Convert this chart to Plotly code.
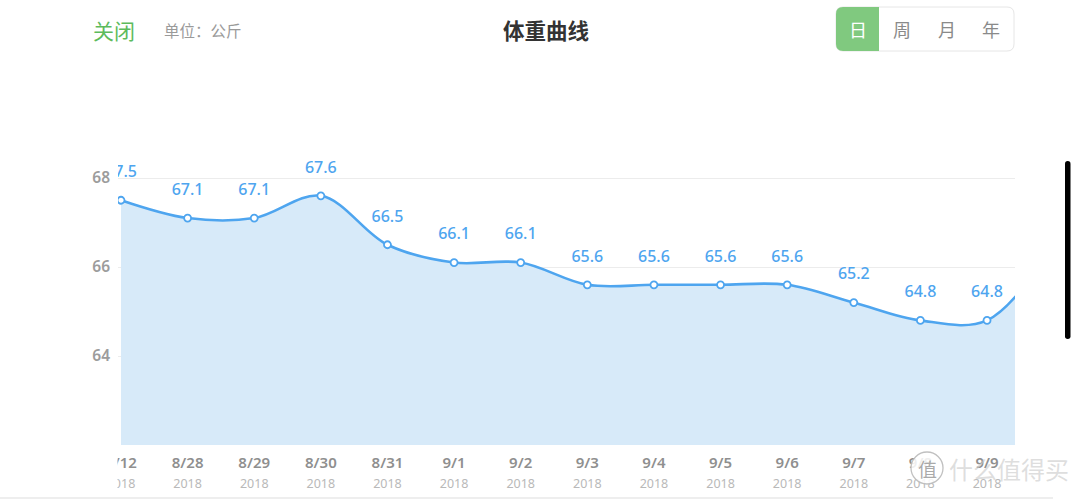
import plotly.graph_objects as go

# ---------------- data ----------------
dates = ["7/12", "8/28", "8/29", "8/30", "8/31", "9/1", "9/2",
         "9/3", "9/4", "9/5", "9/6", "9/7", "9/8", "9/9"]
years = ["2018"] * len(dates)
weights = [67.5, 67.1, 67.1, 67.6, 66.5, 66.1, 66.1,
           65.6, 65.6, 65.6, 65.6, 65.2, 64.8, 64.8]
# next (scrolled off-screen) day, estimated from the rising line at the right edge
next_date = "9/10"
next_weight = 66.5
y_ticks = [64, 66, 68]

# ---------------- helpers ----------------
W, H = 1080, 499
def px(x):
    return x / W
def py(y):
    return 1 - y / H

def rrect(x0, y0, x1, y1, r, left=True, right=True):
    """rounded rectangle path in paper coords from pixel coords"""
    rl = r if left else 0
    rr = r if right else 0
    p = f"M {px(x0 + rl)} {py(y0)} L {px(x1 - rr)} {py(y0)} "
    if rr:
        p += f"Q {px(x1)} {py(y0)} {px(x1)} {py(y0 + rr)} "
    p += f"L {px(x1)} {py(y1 - rr)} "
    if rr:
        p += f"Q {px(x1)} {py(y1)} {px(x1 - rr)} {py(y1)} "
    p += f"L {px(x0 + rl)} {py(y1)} "
    if rl:
        p += f"Q {px(x0)} {py(y1)} {px(x0)} {py(y1 - rl)} "
    p += f"L {px(x0)} {py(y0 + rl)} "
    if rl:
        p += f"Q {px(x0)} {py(y0)} {px(x0 + rl)} {py(y0)} "
    p += "Z"
    return p

xs = list(range(len(dates) + 1))
ys = weights + [next_weight]
labels = [f"{w:.1f}" for w in weights] + [""]

BLUE = "#4ea5ef"
FILL = "#d7eaf9"
NUMFONT = "Noto Sans, Noto Sans CJK SC, sans-serif"
CJK = "Noto Sans CJK SC, sans-serif"

fig = go.Figure()
fig.add_trace(go.Scatter(
    x=xs, y=ys,
    mode="lines+markers",
    line=dict(color=BLUE, width=2.6, shape="spline", smoothing=1.0),
    fill="tozeroy", fillcolor=FILL,
    marker=dict(size=7, color="white", line=dict(color=BLUE, width=1.8)),
    cliponaxis=True, hoverinfo="skip", showlegend=False,
))
# value labels (transparent large markers give the label offset above each point)
fig.add_trace(go.Scatter(
    x=xs, y=ys,
    mode="markers+text",
    marker=dict(size=29, color="rgba(0,0,0,0)"),
    text=labels, textposition="top center",
    textfont=dict(family=NUMFONT, size=16, color=BLUE, weight=500),
    cliponaxis=True, hoverinfo="skip", showlegend=False,
))

ticktext = [f"{d}<br><span style='font-size:12.5px;color:#b9b9b9;font-weight:400'>{y}</span>"
            for d, y in zip(dates, years)]

fig.update_layout(
    width=W, height=H,
    margin=dict(l=0, r=0, t=0, b=0),
    paper_bgcolor="white", plot_bgcolor="white",
    xaxis=dict(
        domain=[px(118), px(1015)],
        range=[-0.045, 13.42],
        tickmode="array", tickvals=list(range(len(dates))), ticktext=ticktext,
        tickfont=dict(family=NUMFONT, size=15, color="#8f8f8f", weight=600),
        showgrid=False, zeroline=False, showline=False,
        ticks="", ticklabelstandoff=7, automargin=False, fixedrange=True,
    ),
    yaxis=dict(
        domain=[py(445), py(111.25)],
        range=[62, 69.5],
        tickmode="array", tickvals=y_ticks, ticktext=[str(t) for t in y_ticks],
        tickfont=dict(family=NUMFONT, size=15.5, color="#9c9c9c", weight=600),
        showgrid=True, gridcolor="#ececec", gridwidth=1,
        zeroline=False, showline=False, ticks="", ticklabelstandoff=7,
        automargin=False, fixedrange=True,
    ),
)

shapes = [
    # mask to clip the first x tick label at the plot's left edge
    dict(type="rect", xref="paper", yref="paper", x0=0, x1=px(117.5), y0=py(496), y1=py(447),
         fillcolor="white", line=dict(width=0), layer="above"),
    # segmented control
    dict(type="path", xref="paper", yref="paper", path=rrect(836, 7, 1014, 51, 7),
         fillcolor="white", line=dict(color="#e6e6e6", width=1), layer="above"),
    dict(type="path", xref="paper", yref="paper", path=rrect(836, 7, 879, 51, 7, right=False),
         fillcolor="#80c97f", line=dict(width=0), layer="above"),
    # bottom divider
    dict(type="line", xref="paper", yref="paper", x0=0, x1=px(1053), y0=py(498), y1=py(498),
         line=dict(color="#e8e8e8", width=1.5), layer="above"),
    # scrollbar
    dict(type="path", xref="paper", yref="paper", path=rrect(1065, 161, 1070.5, 339, 2.7),
         fillcolor="black", line=dict(width=0), layer="above"),
    # watermark circle
    dict(type="circle", xref="paper", yref="paper", x0=px(911), x1=px(943), y0=py(484), y1=py(452),
         fillcolor="rgba(255,255,255,0.85)", line=dict(color="rgba(185,185,185,0.9)", width=1.3),
         layer="above"),
]
fig.update_layout(shapes=shapes)

ann = [
    dict(text="关闭", x=px(91), y=py(30), xanchor="left", yanchor="middle",
         font=dict(family=CJK, size=21, color="#5dbb5c")),
    dict(text="单位：公斤", x=px(162), y=py(30), xanchor="left", yanchor="middle",
         font=dict(family=CJK, size=15.5, color="#9a9a9a")),
    dict(text="<b>体重曲线</b>", x=px(546), y=py(30), xanchor="center", yanchor="middle",
         font=dict(family=CJK, size=21.5, color="#333333")),
    dict(text="日", x=px(857.5), y=py(29), xanchor="center", yanchor="middle",
         font=dict(family=CJK, size=18, color="white")),
    dict(text="周", x=px(902), y=py(29), xanchor="center", yanchor="middle",
         font=dict(family=CJK, size=18, color="#8a8a8a")),
    dict(text="月", x=px(947), y=py(29), xanchor="center", yanchor="middle",
         font=dict(family=CJK, size=18, color="#8a8a8a")),
    dict(text="年", x=px(991), y=py(29), xanchor="center", yanchor="middle",
         font=dict(family=CJK, size=18, color="#8a8a8a")),
    # watermark
    dict(text="值", x=px(927), y=py(468), xanchor="center", yanchor="middle",
         font=dict(family=CJK, size=19, color="rgba(165,165,165,0.95)")),
    dict(text="什么值得买", x=px(947), y=py(468), xanchor="left", yanchor="middle",
         font=dict(family=CJK, size=24, color="rgba(200,200,200,0.6)")),
]
for a in ann:
    a.update(xref="paper", yref="paper", showarrow=False)
fig.update_layout(annotations=ann)

fig.write_html("out.html", config={"displayModeBar": False})
